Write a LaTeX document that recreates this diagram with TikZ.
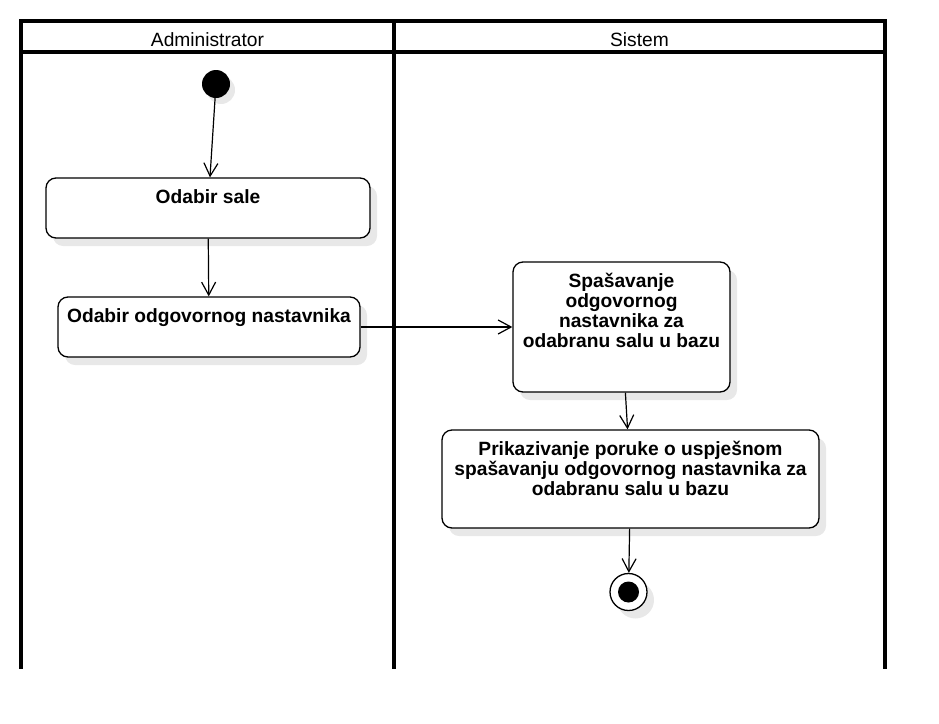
\documentclass[tikz,border=0pt]{standalone}
\usepackage{fontspec}
\setmainfont{Liberation Sans}
\usetikzlibrary{arrows.meta, positioning, shadows}

\begin{document}
\begin{tikzpicture}[
  x=1pt, y=-1pt,
  every node/.style={font=\fontsize{19.2}{20}\selectfont},
  lane/.style={line width=3.2pt},
  action/.style={rectangle, draw, rounded corners=10pt, line width=1.3pt, fill=white,
    drop shadow={shadow xshift=7pt, shadow yshift=-8pt, fill=black!9, opacity=1}},
  actlabel/.style={anchor=north, inner sep=0pt, yshift=-12pt, align=center,
    font=\fontsize{19.2}{20}\selectfont\bfseries},
  startstate/.style={circle, fill=black, minimum size=28pt, inner sep=0pt,
    drop shadow={shadow xshift=5pt, shadow yshift=-6pt, fill=black!9, opacity=1}},
  endstate/.style={circle, draw, line width=1.3pt, fill=white, minimum size=37pt, inner sep=0pt,
    path picture={\fill[black] (path picture bounding box.center) circle (10.5pt);},
    drop shadow={shadow xshift=7pt, shadow yshift=-8pt, fill=black!9, opacity=1}},
  arrow/.style={line width=1.2pt, -{Straight Barb[length=13pt, width=14pt]}}
]
\useasboundingbox (0,0) rectangle (939,723);

% Swimlanes
\draw[lane] (21,21) rectangle (885,52);
\draw[lane] (21,52) -- (21,669);
\draw[lane] (394,21) -- (394,669);
\draw[lane] (885,52) -- (885,669);
\node (admin) at (207.5,40) {Administrator};
\node (sistem) at (639.5,40) {Sistem};

% Actions
\node[startstate] (start) at (216,84) {};
\node[action, minimum width=324pt, minimum height=60pt,
  label={[actlabel]north:Odabir sale}] (sala) at (208,208) {};
\node[action, minimum width=302pt, minimum height=60pt,
  label={[actlabel]north:Odabir odgovornog nastavnika}] (nastavnik) at (209,327) {};
\node[action, minimum width=217pt, minimum height=130pt,
  label={[actlabel]north:{Spašavanje\\odgovornog\\nastavnika za\\odabranu salu u bazu}}] (spasavanje) at (621.5,327) {};
\node[action, minimum width=377pt, minimum height=98pt,
  label={[actlabel]north:{Prikazivanje poruke o uspješnom\\spašavanju odgovornog nastavnika za\\odabranu salu u bazu}}] (poruka) at (630.5,479) {};
\node[endstate] (kraj) at (628.5,592) {};

% Connections
\draw[arrow] (start) -- (sala);
\draw[arrow] (sala) -- (nastavnik);
\draw[arrow] (nastavnik) -- (spasavanje);
\draw[arrow] (spasavanje) -- (poruka);
\draw[arrow] (poruka) -- (kraj);

\end{tikzpicture}
\end{document}
